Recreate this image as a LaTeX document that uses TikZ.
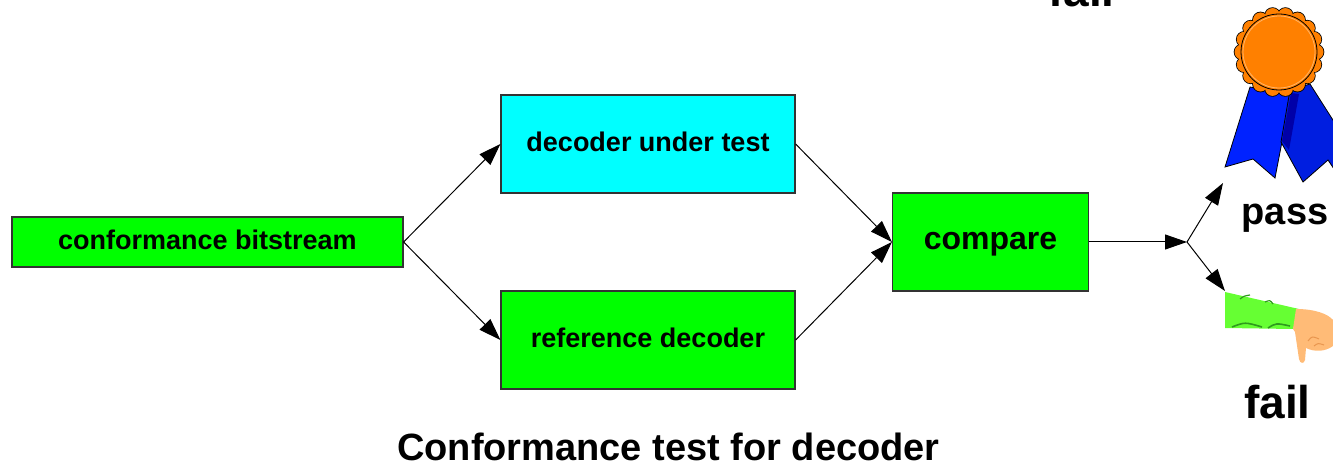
\documentclass[tikz,border=0pt]{standalone}
\usepackage{fontspec}
\setmainfont{Liberation Sans}
\usetikzlibrary{arrows.meta}
\definecolor{grnbox}{HTML}{00FF00}
\definecolor{cynbox}{HTML}{00FFFF}
\definecolor{boxline}{HTML}{333333}
\definecolor{medal}{HTML}{FF8000}
\definecolor{ribbon}{HTML}{0022FF}
\definecolor{ribbondk}{HTML}{0000A8}
\definecolor{sleeve}{HTML}{66FF33}
\definecolor{sleevedk}{HTML}{2F9A1E}
\definecolor{skin}{HTML}{FFBB77}
\definecolor{skindk}{HTML}{E8964F}

\tikzset{
	box/.style={draw=boxline, line width=0.6pt, inner sep=0pt, text height=0.72em, text depth=0pt, font=\fontsize{13.5}{16}\selectfont\bfseries},
	flow/.style={line width=0.5pt, -{Triangle[length=11pt, width=7.5pt]}},
	word/.style={anchor=base, inner sep=0pt, font=\fontsize{#1}{#1}\selectfont\bfseries},
}

\begin{document}
\begin{tikzpicture}[x=0.5pt, y=-0.5pt]

	\clip (0, 0) rectangle (1333, 464);

	\node[box, fill=grnbox, minimum width=195.5pt, minimum height=25pt] (1) at (207.5, 242) {conformance bitstream};
	\node[box, fill=cynbox, minimum width=147pt, minimum height=49pt] (2) at (648, 144) {decoder under test};
	\node[box, fill=grnbox, minimum width=147pt, minimum height=49pt] (3) at (648, 340) {reference decoder};
	\node[box, fill=grnbox, minimum width=98pt, minimum height=49pt, font=\fontsize{16}{19}\selectfont\bfseries] (4) at (990.5, 242) {compare};

	\coordinate (5) at (1187, 242);
	\coordinate (6) at (1223, 183);
	\coordinate (7) at (1225, 291);

	\draw[flow] (1.east) -- (2.west);
	\draw[flow] (1.east) -- (3.west);
	\draw[flow] (2.east) -- (4.west);
	\draw[flow] (3.east) -- (4.west);
	\draw[flow] (4.east) -- (5);
	\draw[flow] (5) -- (6);
	\draw[flow] (5) -- (7);

	% ribbons behind the medal
	\draw[fill=ribbon, line width=0.4pt] (1250, 87) -- (1291, 95) -- (1275, 178) -- (1253, 159) -- (1225, 167) -- cycle;
	\draw[fill=ribbon!88!black, line width=0.4pt] (1290, 90) -- (1310, 84) -- (1352, 150) -- (1340, 178) -- (1328, 160) -- (1303, 182) -- (1281, 142) -- cycle;
	\fill[ribbondk] (1291, 93) -- (1299, 94) -- (1289, 150) -- (1282, 141) -- cycle;

	% scalloped medal: stroke the bumps, then fill them again to hide the inner strokes
	\foreach \a in {0, 20, ..., 340}
		\draw[fill=medal, line width=0.8pt] (1279, 52) ++(\a:37) circle (7.5);
	\foreach \a in {0, 20, ..., 340}
		\fill[medal] (1279, 52) ++(\a:37) circle (7.5);
	\draw[fill=medal, line width=0.4pt] (1279, 52) circle (38);
	\draw[medal!60!white, line width=0.4pt] (1279, 52) circle (36);

	% thumbs down
	\fill[sleeve] (1225, 292) -- (1299, 309) -- (1293, 329) -- (1225, 328) -- cycle;
	\draw[sleevedk, line width=0.8pt] (1232, 327) .. controls (1245, 322) .. (1262, 327);
	\draw[sleevedk, line width=0.8pt] (1268, 328) .. controls (1276, 323) .. (1290, 326);
	\draw[sleevedk, line width=0.6pt] (1240, 299) .. controls (1244, 296) .. (1250, 295);
	\draw[sleevedk, line width=0.6pt] (1265, 302) .. controls (1270, 300) .. (1273, 304);
	\fill[skin] (1296, 309) .. controls (1315, 309) and (1328, 314) .. (1333, 320) -- (1333, 346) .. controls (1325, 352) and (1314, 352) .. (1306, 348) -- (1305, 360) .. controls (1304, 364) and (1300, 364) .. (1299, 359) -- (1295, 332) -- (1293, 329) -- cycle;
	\draw[skindk, line width=0.5pt] (1308, 341) .. controls (1312, 336) .. (1319, 339);
	\draw[skindk, line width=0.5pt] (1314, 346) .. controls (1318, 343) .. (1324, 345);

	\node[word=19] (8) at (1285, 225) {pass};
	\node[word=23] (9) at (1277.5, 419) {fail};
	\node[word=23] (10) at (1081.5, 7) {fail};
	\node[word=19] (11) at (668.5, 460) {Conformance test for decoder};
\end{tikzpicture}
\end{document}
